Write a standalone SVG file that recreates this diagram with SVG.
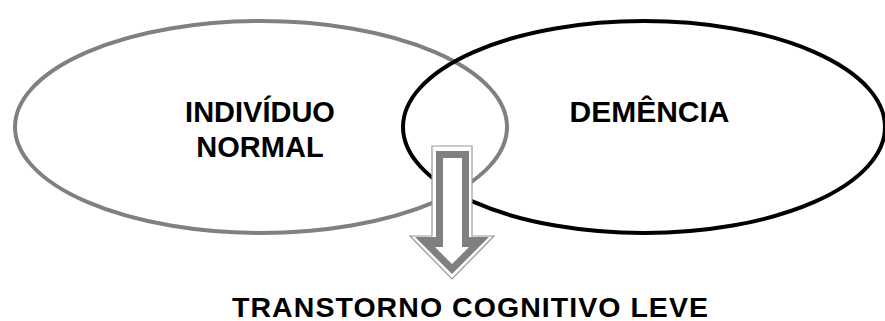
<svg xmlns="http://www.w3.org/2000/svg" width="885" height="321" viewBox="0 0 885 321">
<style>
.lbl{font-family:"Liberation Sans",Arial,sans-serif;font-weight:bold;fill:#000;text-anchor:middle}
</style>
<rect width="885" height="321" fill="#fff"/>
<g id="normal">
<ellipse cx="261" cy="127" rx="246" ry="106" fill="none" stroke="#808080" stroke-width="4"/>
<text class="lbl" x="260" y="122" font-size="29">INDIVÍDUO</text>
<text class="lbl" x="260" y="157" font-size="29">NORMAL</text>
</g>
<g id="demencia">
<ellipse cx="644" cy="127" rx="241" ry="106" fill="none" stroke="#000" stroke-width="4"/>
<text class="lbl" x="649.5" y="122" font-size="30">DEMÊNCIA</text>
</g>
<g id="connectors">
<polygon points="432,146 472,146 472,236 494,236 452,279 410,236 432,236" fill="#fff" stroke="#999" stroke-width="1.2"/>
<polygon points="436,151 469,151 469,237 489,237 452,274 415,237 436,237" fill="#808080"/>
<polygon points="443,158 462,158 462,247 469,247 452,264 435,247 443,247" fill="#fff"/>
</g>
<g id="tcl">
<text class="lbl" x="470" y="316.5" font-size="28.5" textLength="476" lengthAdjust="spacing">TRANSTORNO COGNITIVO LEVE</text>
</g>
</svg>
